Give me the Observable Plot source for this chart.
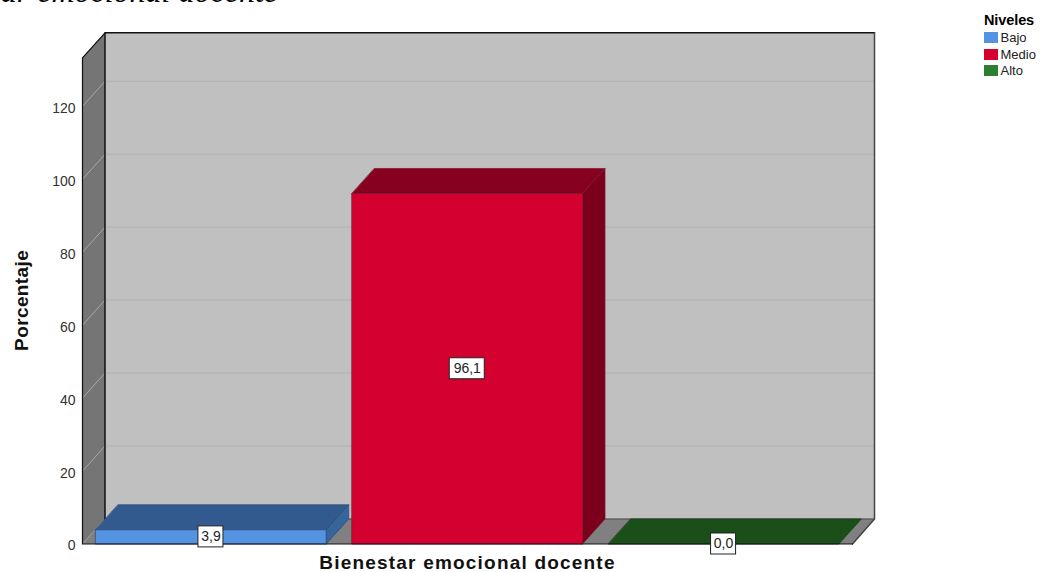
<!DOCTYPE html>
<html>
<head>
<meta charset="utf-8">
<script src="https://cdn.jsdelivr.net/npm/d3@7"></script>
<script src="https://cdn.jsdelivr.net/npm/@observablehq/plot@0.6"></script>
<style>
html,body{margin:0;padding:0;background:#fff;overflow:hidden;width:1041px;height:572px;position:relative}
#head{position:absolute;right:763px;top:-25px;font:italic 32px/32px "Liberation Serif",serif;color:#000;white-space:nowrap}
#legend{position:absolute;left:984px;top:12px;font:13px/16.3px "Liberation Sans",Arial,sans-serif;color:#222}
#legend b{display:block;color:#000;font-size:14.5px;font-weight:bold;margin-bottom:2px;letter-spacing:-.1px}
#legend i{display:inline-block;width:13.5px;height:11px;margin-right:3px;vertical-align:-1px}
#chart{position:absolute;left:0;top:0}
.xt{letter-spacing:1.2px}
.yt{letter-spacing:.4px}
</style>
</head>
<body>
<div id="chart"></div>
<div id="head">ar emocional docente</div>
<div id="legend"></div>
<script>
const categories = ["Bajo", "Medio", "Alto"];
const values = [3.9, 96.1, 0.0];
const frontColors = ["#5493e1", "#d40030", "#2a8030"];
const topColors = ["#325a8f", "#87001f", "#1b4f1a"];
const sideColors = ["#36659c", "#7c001c", "#1b4f1a"];
const edgeColors = ["#2c4c78", "#7a1a30", "#1a3a18"];
const yTicks = [0, 20, 40, 60, 80, 100, 120];
const axisTitleX = "Bienestar emocional docente";
const axisTitleY = "Porcentaje";
const legendTitle = "Niveles";

// projection in scale units
const yMaxFront = 133.3, depthY = 6.86, depthX = 0.0878;
const xFront = 3.004, xMax = 3.09, barStart = 0.0515, barWidth = 0.8993;
const yMax = yMaxFront + depthY;
const fmt = v => v.toFixed(1).replace(".", ",");

const face = (pts, fill, stroke = "none", sw = 0.75) =>
  Plot.line(pts.map(([x, y]) => ({x, y})), {x: "x", y: "y", fill, stroke, strokeWidth: sw, curve: "linear-closed"});
const edge = (pts, stroke, sw = 1.5, op = 1) =>
  Plot.line(pts.map(([x, y]) => ({x, y})), {x: "x", y: "y", stroke, strokeWidth: sw, strokeOpacity: op});

const marks = [];
// walls and floor
marks.push(face([[0, 0], [depthX, depthY], [depthX, yMax], [0, yMaxFront]], "#757575"));
marks.push(face([[depthX, depthY], [xMax, depthY], [xMax, yMax], [depthX, yMax]], "#c0c0c0"));
marks.push(face([[0, 0], [xFront, 0], [xMax, depthY], [depthX, depthY]], "#808080"));
// gridlines
for (const t of yTicks.slice(1)) {
  marks.push(edge([[0, t], [depthX, t + depthY]], "#a8a8a8", 1));
  marks.push(edge([[depthX, t + depthY], [xMax, t + depthY]], "#b2b2b2", 1));
}
// floor edges and back frame
marks.push(edge([[depthX, depthY], [xMax, depthY]], "#444", 1));
marks.push(edge([[0, 0], [depthX, depthY]], "#999", 0.8));
marks.push(edge([[depthX, depthY], [depthX, yMax], [xMax, yMax]], "#111", 1.5));
marks.push(edge([[xMax, yMax], [xMax, depthY], [xFront, 0]], "#444", 1.5));
// bars
categories.forEach((c, i) => {
  const x0 = barStart + i, x1 = x0 + barWidth, v = values[i];
  marks.push(face([[x0, v], [x1, v], [x1 + depthX, v + depthY], [x0 + depthX, v + depthY]], topColors[i], edgeColors[i]));
  if (v > 0) {
    marks.push(face([[x1, 0], [x1 + depthX, depthY], [x1 + depthX, v + depthY], [x1, v]], sideColors[i], edgeColors[i]));
    marks.push(face([[x0, 0], [x1, 0], [x1, v], [x0, v]], frontColors[i], edgeColors[i]));
  }
});
// front frame
marks.push(edge([[depthX, yMax], [0, yMaxFront], [0, 0], [xFront, 0]], "#111", 1.2));
// value labels
categories.forEach((c, i) => {
  const cx = barStart + i + barWidth / 2, cy = values[i] / 2, s = fmt(values[i]);
  const hw = s.length > 3 ? 17.5 : 12.5;
  marks.push(Plot.rect([0], {x1: () => cx, x2: () => cx, y1: () => cy, y2: () => cy,
    insetLeft: -hw, insetRight: -hw, insetTop: -10.5, insetBottom: -10.5,
    fill: "#fff", stroke: "#222", strokeWidth: 1}));
  marks.push(Plot.text([s], {x: () => cx, y: () => cy, text: d => d, fontSize: 14, fill: "#222",
    fontFamily: "Liberation Sans"}));
});
// axes
marks.push(Plot.axisY(yTicks, {anchor: "left", tickSize: 0, tickPadding: 7, label: null, fontSize: 14, fill: "#333",
  dy: 2, fontFamily: "Liberation Sans"}));
marks.push(Plot.text([axisTitleY], {x: () => 0, y: () => 66.8, text: d => d, dx: -61, rotate: -90,
  fontSize: 19, fontWeight: "bold", fill: "#111", fontFamily: "Liberation Sans", className: "yt"}));
marks.push(Plot.text([axisTitleX], {x: () => xFront / 2, y: () => 0, text: d => d, dy: 19,
  fontSize: 19, fontWeight: "bold", fill: "#111", fontFamily: "Liberation Sans", className: "xt"}));

const chart = Plot.plot({
  width: 1041, height: 572,
  marginLeft: 82, marginRight: 167, marginTop: 32.3, marginBottom: 28.5,
  x: {domain: [0, xMax], axis: null},
  y: {domain: [0, yMax], axis: null},
  style: {background: "#fff", overflow: "visible"},
  marks
});
document.getElementById("chart").append(chart);

const leg = document.getElementById("legend");
const b = document.createElement("b"); b.textContent = legendTitle; leg.append(b);
categories.forEach((c, i) => {
  const row = document.createElement("div");
  const sw = document.createElement("i"); sw.style.background = frontColors[i];
  row.append(sw, c); leg.append(row);
});
</script>
</body>
</html>
